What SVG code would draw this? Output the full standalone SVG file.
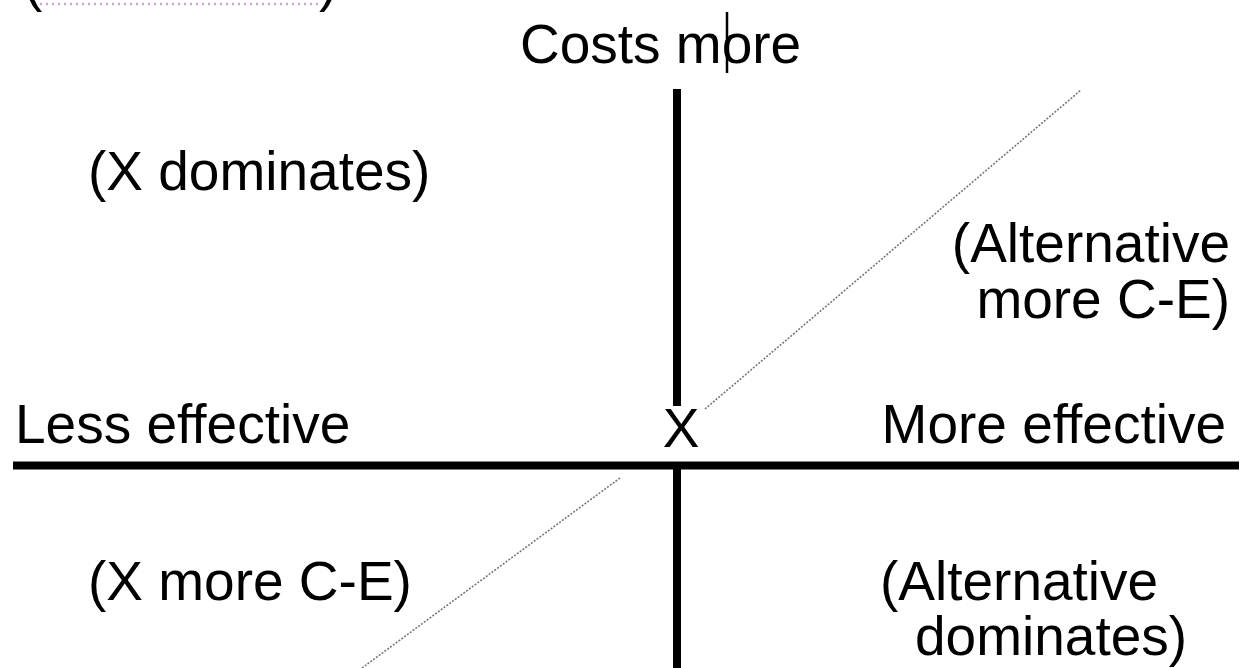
<svg xmlns="http://www.w3.org/2000/svg" width="1240" height="668" viewBox="0 0 1240 668">
  <style>
    .t { font-family: "Liberation Sans", Arial, sans-serif; font-size: 55px; fill: #000; }
    .axis { stroke: #000; stroke-width: 8; fill: none; }
    .diag { stroke: #777; stroke-width: 1.6; stroke-dasharray: 2 1.5; fill: none; }
  </style>
  <rect width="1240" height="668" fill="#fff"/>
  <g id="top-fragment">
    <text class="t" x="24" y="0">(</text>
    <text class="t" x="319" y="0">)</text>
    <line x1="40" y1="4" x2="318" y2="4" stroke="#d69ee0" stroke-width="2.5" stroke-dasharray="2 4"/>
  </g>
  <g id="connectors">
    <line class="axis" x1="677" y1="89" x2="677" y2="406"/>
    <line class="axis" x1="677" y1="463" x2="677" y2="668"/>
    <line class="axis" x1="13" y1="465.5" x2="1239" y2="465.5" stroke-width="7"/>
    <line class="diag" x1="705" y1="409" x2="1081" y2="90"/>
    <line class="diag" x1="620" y1="478" x2="362" y2="668"/>
  </g>
  <g id="costs-more">
    <text class="t" x="520" y="63">Costs more</text>
    <line x1="727" y1="12" x2="727" y2="73" stroke="#000" stroke-width="2.5"/>
  </g>
  <g id="less-effective"><text class="t" x="15" y="443">Less effective</text></g>
  <g id="more-effective"><text class="t" x="1226" y="443" text-anchor="end">More effective</text></g>
  <g id="x-origin"><text class="t" x="681" y="447" text-anchor="middle">X</text></g>
  <g id="x-dominates"><text class="t" x="88" y="190">(X dominates)</text></g>
  <g id="alt-more-ce">
    <text class="t" x="1230" y="262" text-anchor="end">(Alternative</text>
    <text class="t" x="1230" y="318" text-anchor="end">more C-E)</text>
  </g>
  <g id="x-more-ce"><text class="t" x="88" y="600">(X more C-E)</text></g>
  <g id="alt-dominates">
    <text class="t" x="880" y="600">(Alternative</text>
    <text class="t" x="915" y="655">dominates)</text>
  </g>
</svg>
